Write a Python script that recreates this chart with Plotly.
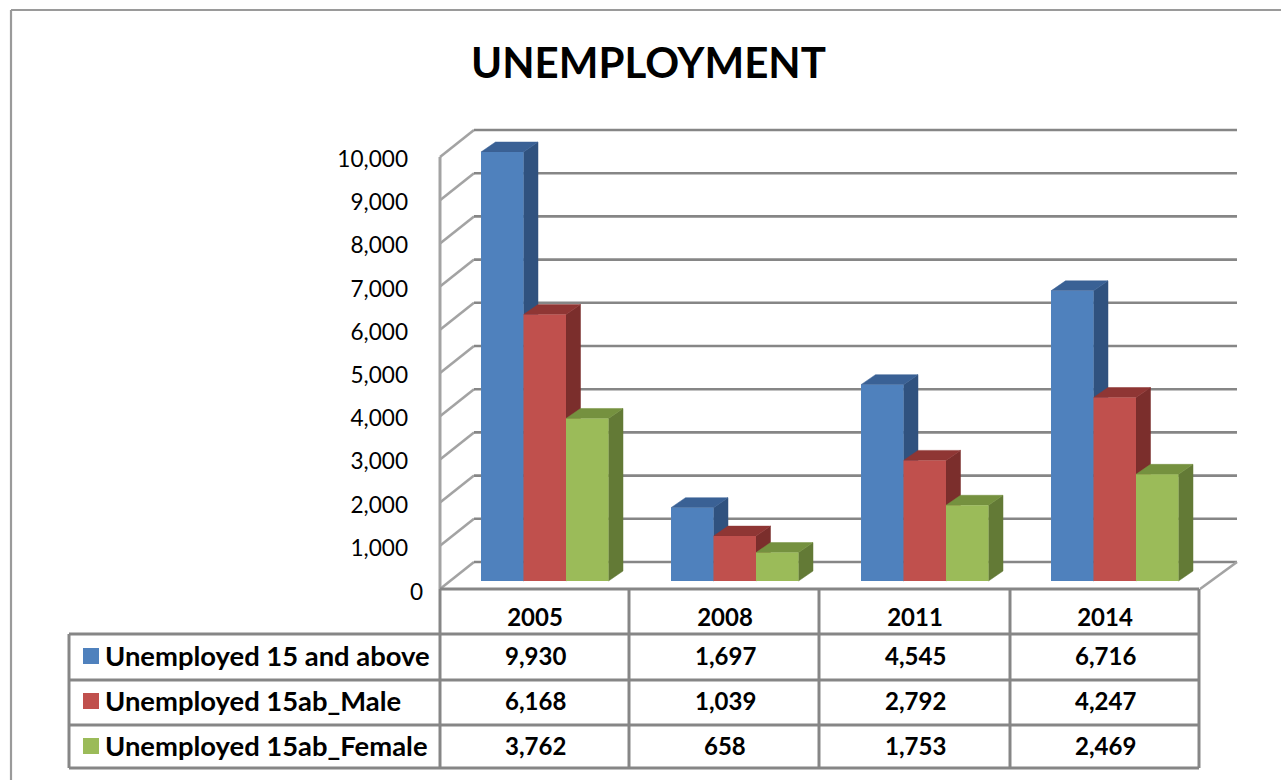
import plotly.graph_objects as go

# Survey figures
years = ["2005", "2008", "2011", "2014"]
series_names = ["Unemployed 15 and above", "Unemployed 15ab_Male", "Unemployed 15ab_Female"]
total_15_up = [9930, 1697, 4545, 6716]
male_15_up = [6168, 1039, 2792, 4247]
female_15_up = [3762, 658, 1753, 2469]
value_ticks = list(range(0, 11000, 1000))

series_values = [total_15_up, male_15_up, female_15_up]
front_colors = ["#4F81BD", "#C0504D", "#9BBB59"]
top_colors = ["#3A6195", "#8F3634", "#75913F"]
side_colors = ["#30527F", "#7B2E2C", "#637A36"]

W, H = 1281, 780
GRID = "#868686"
WALL = "#A3A3A3"
FONT = "Lato"

# Pseudo-3D projection, in axis units (one category = 190 px, 1000 units = 43.2 px)
PX_X = 1 / 190
PX_Y = 1 / 0.0432
wall_dx, wall_dy = 34 * PX_X, 27 * PX_Y
wall_right = 3.5 + 37 * PX_X
bar_dx, bar_dy = 14.5 * PX_X, 10 * PX_Y
floor_lift = 8 * PX_Y
bar_width = 42.5 * PX_X
first_bar_left = -54 * PX_X


def px(x):
    return x / W


def py(y):
    return 1 - y / H


fig = go.Figure()


def segment(xs, ys, color, width=2.6):
    fig.add_trace(go.Scatter(
        x=xs, y=ys, mode="lines", line=dict(color=color, width=width),
        hoverinfo="skip", showlegend=False,
    ))


def polygon(xs, ys, color):
    fig.add_trace(go.Scatter(
        x=xs, y=ys, mode="lines", fill="toself", fillcolor=color,
        line=dict(color=color, width=0.5), hoverinfo="skip", showlegend=False,
    ))


# Back wall gridlines and the matching diagonals on the side wall
for v in value_ticks:
    segment([-0.5, -0.5 + wall_dx], [v, v + wall_dy], WALL)
    segment([-0.5 + wall_dx, wall_right], [v + wall_dy, v + wall_dy], GRID)

# Front edge of the side wall and right edge of the floor
segment([-0.5, -0.5], [value_ticks[0], value_ticks[-1]], WALL, 3)
segment([3.5, wall_right], [0, wall_dy], WALL)

# Top and side faces of each column, painted left to right
for i in range(len(years)):
    for s, values in enumerate(series_values):
        left = i + first_bar_left + s * bar_width
        right = left + bar_width
        low = floor_lift
        high = floor_lift + values[i]
        polygon([right, right + bar_dx, right + bar_dx, right, right],
                [low, low + bar_dy, high + bar_dy, high, low], side_colors[s])
        polygon([left, left + bar_dx, right + bar_dx, right, left],
                [high, high + bar_dy, high + bar_dy, high, high], top_colors[s])

# Front faces sit on an overlaid pair of axes so they cover the faces behind them
for s, values in enumerate(series_values):
    fig.add_trace(go.Bar(
        x=[i + first_bar_left + (s + 0.5) * bar_width for i in range(len(years))],
        y=values, base=floor_lift, width=bar_width, name=series_names[s],
        marker=dict(color=front_colors[s], line=dict(width=0)),
        showlegend=False, xaxis="x2", yaxis="y2",
    ))

shapes = []


def rule(x0, y0, x1, y1, width=3, color=GRID):
    shapes.append(dict(type="line", xref="paper", yref="paper",
                       x0=px(x0), y0=py(y0), x1=px(x1), y1=py(y1),
                       line=dict(color=color, width=width)))


# Outer frame of the sheet
rule(11, 10, W, 10, 1.8, "#9A9A9A")
rule(11, 10, 11, H, 2.2, "#9A9A9A")

# Data table ruling
row_lines = [589, 634, 680, 725, 768]
col_lines = [440, 629, 819, 1010, 1199]
for y in row_lines:
    rule(440 if y == row_lines[0] else 69, y, 1199, y)
for x in col_lines:
    rule(x, 589, x, 768)
rule(69, 634, 69, 768)

annotations = [dict(
    text="UNEMPLOYMENT", xref="paper", yref="paper", x=px(648.5), y=py(62),
    xanchor="center", yanchor="middle", showarrow=False,
    font=dict(family=FONT, size=42, color="#000000", weight=700),
), dict(
    text="0", xref="paper", yref="paper", x=px(425), y=py(591),
    xanchor="right", yanchor="middle", showarrow=False,
    font=dict(family=FONT, size=22.6, color="#000000"),
)]

# Legend keys, row titles and table values
row_centers = [656, 701, 746]
for s, name in enumerate(series_names):
    yc = row_centers[s]
    shapes.append(dict(type="rect", xref="paper", yref="paper",
                       x0=px(83), x1=px(99), y0=py(yc - 8), y1=py(yc + 8),
                       fillcolor=front_colors[s], line=dict(width=0)))
    annotations.append(dict(
        text=name, xref="paper", yref="paper", x=px(103), y=py(yc - 1),
        xanchor="left", yanchor="middle", showarrow=False,
        font=dict(family=FONT, size=27.4, color="#000000", weight=700),
    ))
    for i, v in enumerate(series_values[s]):
        annotations.append(dict(
            text=f"{v:,}", xref="x", x=i, yref="paper", y=py(yc - 1),
            xanchor="center", yanchor="middle", showarrow=False,
            font=dict(family=FONT, size=24, color="#000000", weight=700),
        ))

# The plot box is larger than the chart body so the projected walls stay inside it
x_domain = [px(430), px(1262)]
y_domain = [py(595), py(100)]
x_range = [(430 - 535) * PX_X, (1262 - 535) * PX_X]
y_range = [(589 - 595) * PX_Y, (589 - 100) * PX_Y]

fig.update_layout(
    width=W, height=H,
    margin=dict(l=0, r=0, t=0, b=0, pad=0, autoexpand=False),
    paper_bgcolor="#FFFFFF", plot_bgcolor="rgba(0,0,0,0)",
    barmode="overlay", showlegend=False,
    shapes=shapes, annotations=annotations,
    xaxis=dict(
        domain=x_domain, range=x_range, tickmode="array",
        tickvals=list(range(len(years))), ticktext=years,
        tickfont=dict(family=FONT, size=24, color="#000000", weight=700),
        ticks="", ticklabelstandoff=6, showgrid=False, zeroline=False,
        showline=False, fixedrange=True,
    ),
    yaxis=dict(
        domain=y_domain, range=y_range, tickmode="array",
        tickvals=value_ticks[1:], ticktext=[f"{v:,}" for v in value_ticks[1:]],
        tickfont=dict(family=FONT, size=22.6, color="#000000"),
        ticks="", ticklabelstandoff=21, ticklabelshift=2, showgrid=False, zeroline=False,
        showline=False, fixedrange=True,
    ),
    xaxis2=dict(domain=x_domain, range=x_range, overlaying="x", visible=False, fixedrange=True),
    yaxis2=dict(domain=y_domain, range=y_range, overlaying="y", visible=False, fixedrange=True),
)

fig.write_html("out.html")
